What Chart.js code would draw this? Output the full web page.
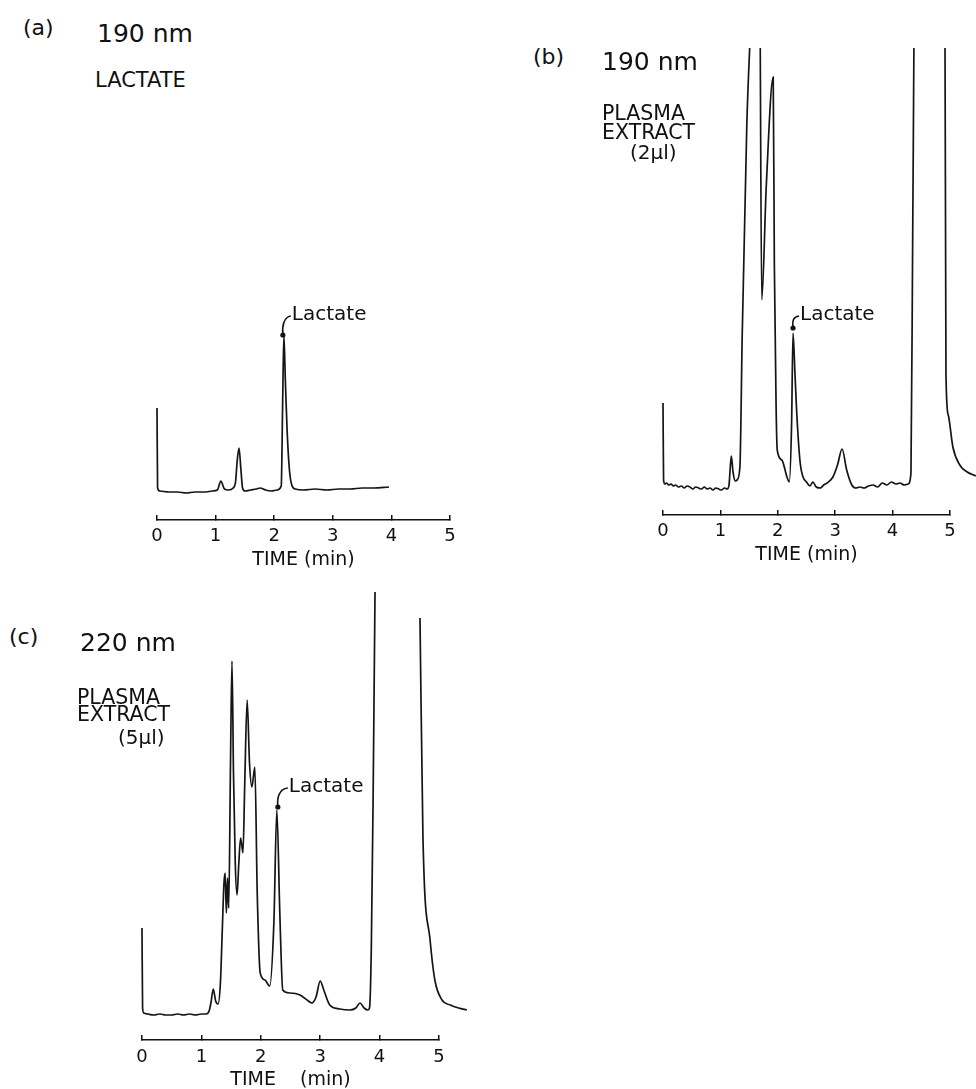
<!DOCTYPE html>
<html>
<head>
<meta charset="utf-8">
<script src="https://cdn.jsdelivr.net/npm/chart.js@4.4.1/dist/chart.umd.min.js"></script>
<style>
html, body { margin: 0; padding: 0; background: #fff; overflow: hidden; }
body { width: 976px; height: 1089px; position: relative; font-family: "DejaVu Sans", sans-serif; color: #111; }
.t { position: absolute; white-space: pre; line-height: 1; }
canvas { position: absolute; }
</style>
</head>
<body>
<canvas id="chartA" width="380" height="300" style="left:100px;top:280px"></canvas>
<canvas id="chartB" width="376" height="560" style="left:600px;top:20px"></canvas>
<canvas id="chartC" width="386" height="525" style="left:90px;top:570px"></canvas>

<div class="t" style="left:23px;top:17px;font-size:22px">(a)</div>
<div class="t" style="left:97px;top:21px;font-size:25px">190 nm</div>
<div class="t" style="left:95px;top:70px;font-size:21px">LACTATE</div>

<div class="t" style="left:533px;top:46px;font-size:22px">(b)</div>
<div class="t" style="left:602px;top:49px;font-size:25px">190 nm</div>
<div class="t" style="left:602px;top:103px;font-size:20.5px">PLASMA</div>
<div class="t" style="left:602px;top:122px;font-size:20.5px">EXTRACT</div>
<div class="t" style="left:630px;top:142px;font-size:20px">(2µl)</div>

<div class="t" style="left:9px;top:626px;font-size:22px">(c)</div>
<div class="t" style="left:80px;top:630px;font-size:25px">220 nm</div>
<div class="t" style="left:77px;top:687px;font-size:20.5px">PLASMA</div>
<div class="t" style="left:77px;top:704px;font-size:20.5px">EXTRACT</div>
<div class="t" style="left:118px;top:727px;font-size:20px">(5µl)</div>

<script>
// (a) lactate standard, 190 nm  -- time in min, signal in relative absorbance
const timeA = [0, 0.01, 0.05, 0.2, 0.35, 0.5, 0.65, 0.8, 0.95, 1.03,
  1.09, 1.15, 1.22, 1.3, 1.34, 1.37, 1.40, 1.43, 1.46, 1.5,
  1.6, 1.7, 1.76, 1.85, 1.95, 2.05, 2.12, 2.145, 2.165, 2.19,
  2.22, 2.26, 2.3, 2.36, 2.5, 2.7, 2.9, 3.1, 3.3, 3.5,
  3.7, 3.96];
const signalA = [0.82, 0.02, -0.01, -0.02, -0.02, -0.03, -0.02, -0.02, -0.01, 0.0,
  0.09, 0.01, 0.0, 0.02, 0.08, 0.3, 0.42, 0.22, 0.02, -0.01,
  0.0, 0.01, 0.02, 0.0, -0.01, 0.0, 0.04, 0.9, 1.55, 1.1,
  0.6, 0.2, 0.05, 0.01, 0.0, 0.01, 0.0, 0.01, 0.01, 0.02,
  0.02, 0.03];

// (b) plasma extract 2 ul, 190 nm
const timeB = [0, 0.01, 0.03, 0.06, 0.1, 0.14, 0.18, 0.22, 0.27, 0.32,
  0.37, 0.42, 0.47, 0.52, 0.57, 0.62, 0.67, 0.72, 0.77, 0.82,
  0.87, 0.92, 0.97, 1.02, 1.07, 1.12, 1.15, 1.17, 1.19, 1.22,
  1.26, 1.29, 1.34, 1.38, 1.46, 1.52, 1.60, 1.68, 1.72, 1.80,
  1.92, 1.94, 1.97, 1.99, 2.07, 2.16, 2.20, 2.24, 2.265, 2.30,
  2.33, 2.39, 2.44, 2.5, 2.56, 2.61, 2.67, 2.74, 2.8, 2.86,
  2.96, 3.04, 3.12, 3.2, 3.29, 3.36, 3.43, 3.5, 3.58, 3.66,
  3.74, 3.82, 3.9, 3.98, 4.06, 4.13, 4.2, 4.27, 4.32, 4.35,
  4.40, 4.85, 4.91, 4.93, 4.97, 5.05, 5.17, 5.3, 5.45];
const signalB = [0.82, 0.05, 0.01, 0.02, 0.0, 0.01, -0.01, 0.0, -0.02, -0.01,
  -0.03, -0.01, -0.02, -0.04, -0.02, -0.03, -0.04, -0.02, -0.04, -0.03,
  -0.05, -0.03, -0.04, -0.05, -0.03, -0.04, 0.0, 0.16, 0.29, 0.13,
  0.04, 0.05, 0.18, 1.5, 3.6, 4.5, 5.5, 5.5, 1.85, 3.0,
  4.08, 2.2, 0.8, 0.35, 0.25, 0.08, 0.03, 0.6, 1.52, 1.1,
  0.72, 0.22, 0.08, 0.03, -0.01, 0.03, -0.02, -0.03, 0.0, 0.02,
  0.08, 0.2, 0.36, 0.15, 0.0, -0.03, -0.02, -0.03, -0.01, 0.0,
  -0.02, 0.02, 0.0, 0.03, 0.01, 0.02, 0.0, 0.01, 0.12, 2.5,
  6.0, 6.0, 5.0, 1.1, 0.7, 0.38, 0.2, 0.13, 0.09];

// (c) plasma extract 5 ul, 220 nm (null = pen off the paper)
const timeC = [0, 0.01, 0.03, 0.1, 0.2, 0.3, 0.4, 0.5, 0.6, 0.7,
  0.8, 0.9, 1.0, 1.08, 1.13, 1.16, 1.2, 1.24, 1.28, 1.32,
  1.35, 1.38, 1.40, 1.42, 1.44, 1.46, 1.49, 1.515, 1.54, 1.57,
  1.60, 1.63, 1.66, 1.70, 1.73, 1.77, 1.81, 1.85, 1.90, 1.94,
  1.99, 2.07, 2.15, 2.22, 2.27, 2.32, 2.37, 2.49, 2.66, 2.80,
  2.86, 2.93, 3.0, 3.06, 3.16, 3.33, 3.5, 3.6, 3.67, 3.74,
  3.8, 3.83, 3.86, 3.89, 3.95, 4.3, 4.68, 4.73, 4.85, 4.93,
  5.05, 5.19, 5.33, 5.47];
const signalC = [0.85, 0.05, 0.0, -0.01, -0.02, -0.01, -0.02, -0.02, -0.01, -0.02,
  -0.01, -0.02, -0.01, -0.01, 0.02, 0.1, 0.24, 0.12, 0.09, 0.3,
  0.8, 1.3, 1.4, 1.0, 1.35, 1.05, 2.5, 3.52, 2.4, 1.5,
  1.18, 1.5, 1.75, 1.6, 2.3, 3.13, 2.5, 2.26, 2.46, 1.2,
  0.4, 0.33, 0.27, 0.9, 2.03, 1.0, 0.23, 0.2, 0.18, 0.12,
  0.1, 0.16, 0.32, 0.23, 0.08, 0.04, 0.03, 0.05, 0.1, 0.05,
  0.03, 0.05, 0.63, 2.1, 6.0, null, 3.95, 1.75, 0.73, 0.33,
  0.13, 0.08, 0.05, 0.03];

const axisMin = 0;
const axisMax = 5;
const lactateWindow = [2.05, 2.4];
const lactateText = "Lactate";

// marks the lactate peak: dot, little hook and the label
const lactatePlugin = {
  id: "lactate",
  afterDatasetsDraw(chart, args, opts) {
    let peak = null;
    chart.data.datasets[0].data.forEach(p => {
      if (p.y !== null && p.x >= lactateWindow[0] && p.x <= lactateWindow[1] && (!peak || p.y > peak.y)) peak = p;
    });
    const px = chart.scales.x.getPixelForValue(peak.x);
    const py = chart.scales.y.getPixelForValue(peak.y);
    const dx = px + opts.dotDx, dy = py + opts.dotDy;
    const tx = px + opts.textDx, ty = py + opts.textDy;
    const ctx = chart.ctx;
    ctx.save();
    ctx.strokeStyle = "#111";
    ctx.fillStyle = "#111";
    ctx.lineWidth = 1.6;
    ctx.beginPath();
    ctx.arc(dx, dy, 2.6, 0, Math.PI * 2);
    ctx.fill();
    ctx.beginPath();
    ctx.moveTo(dx, dy);
    ctx.bezierCurveTo(dx - 1, dy - 9, dx + 1, ty + 2, tx - 1, ty + 1);
    ctx.stroke();
    ctx.font = '20px "DejaVu Sans"';
    ctx.textBaseline = "middle";
    ctx.fillText(lactateText, tx, ty);
    ctx.restore();
  }
};

function drawChromatogram(id, times, signals, box) {
  new Chart(document.getElementById(id), {
    type: "line",
    data: {
      datasets: [{
        data: times.map((t, i) => ({ x: t, y: signals[i] })),
        borderColor: "#151515",
        borderWidth: 1.7,
        pointRadius: 0,
        cubicInterpolationMode: "monotone",
        spanGaps: false,
        clip: { left: 4, top: 0, right: false, bottom: 4 }
      }]
    },
    options: {
      responsive: false,
      animation: false,
      events: [],
      layout: { padding: box.padding },
      plugins: {
        legend: { display: false },
        tooltip: { enabled: false },
        lactate: box.label
      },
      scales: {
        x: {
          type: "linear",
          // axis runs 0-5 min, but the pen trace may run on past it
          afterDataLimits: s => { s.min = axisMin; s.max = axisMax; },
          afterFit: s => { s.height = box.axisHeight; },
          ticks: { stepSize: 1, padding: box.tickPad, color: "#111", font: { family: "DejaVu Sans", size: 18 } },
          grid: { drawOnChartArea: false, tickLength: -5, color: "#111", lineWidth: 1.5 },
          border: { color: "#111", width: 1.6 },
          title: {
            display: true,
            text: box.title,
            color: "#111",
            font: { family: "DejaVu Sans", size: 19 },
            padding: { top: 0, bottom: box.titlePad }
          }
        },
        y: { display: false, min: box.yMin, max: box.yMax }
      }
    },
    plugins: [lactatePlugin]
  });
}

drawChromatogram("chartA", timeA, signalA, {
  padding: { left: 57, right: 30, top: 20, bottom: 0 },
  axisHeight: 60, tickPad: 11, titlePad: 9, title: "TIME (min)",
  yMin: -0.30, yMax: 1.90,
  label: { dotDx: -1, dotDy: 0, textDx: 8, textDy: -20 }
});

drawChromatogram("chartB", timeB, signalB, {
  padding: { left: 63, right: 26, top: 28, bottom: 0 },
  axisHeight: 65, tickPad: 11, titlePad: 14, title: "TIME (min)",
  yMin: -0.30, yMax: 4.37,
  label: { dotDx: 0, dotDy: -5, textDx: 7, textDy: -18 }
});

drawChromatogram("chartC", timeC, signalC, {
  padding: { left: 52, right: 37, top: 22, bottom: 0 },
  axisHeight: 55, tickPad: 12, titlePad: 4, title: "TIME    (min)",
  yMin: -0.27, yMax: 4.21,
  label: { dotDx: 1, dotDy: -3, textDx: 12, textDy: -23 }
});
</script>
</body>
</html>
